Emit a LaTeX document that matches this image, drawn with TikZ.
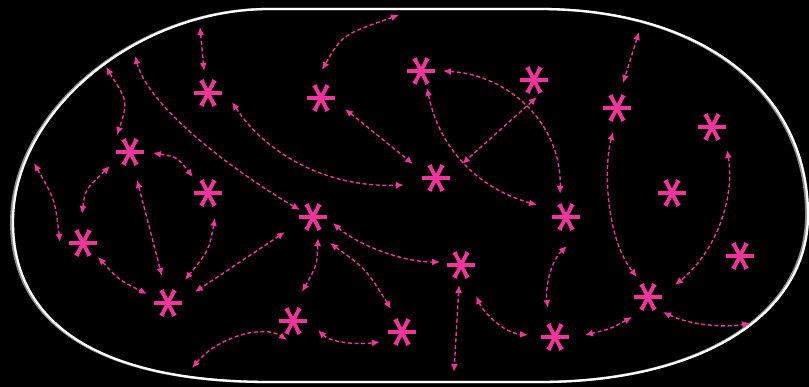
\documentclass[tikz,border=0pt]{standalone}
\usetikzlibrary{arrows.meta,calc}
\definecolor{astcol}{RGB}{240,52,155}
\definecolor{rimgray}{RGB}{140,140,140}
\tikzset{
 ast/.style={circle,minimum size=34pt,inner sep=0pt,
   path picture={\coordinate (pc) at (path picture bounding box.center);
     \foreach \a in {0,63,117}{
       \draw[astcol,line width=3.9pt] ($(pc)+(\a:-13.5)$) -- ($(pc)+(\a:13.5)$);
       \draw[astcol,line width=2.2pt] ($(pc)+(\a:13.3)+(\a+90:2.4)$) -- ($(pc)+(\a:13.3)+(\a-90:2.4)$);
       \draw[astcol,line width=2.2pt] ($(pc)+(\a:-13.3)+(\a+90:2.4)$) -- ($(pc)+(\a:-13.3)+(\a-90:2.4)$);
     }}},
 conn/.style={astcol,line width=1.4pt,dash pattern=on 4pt off 2.6pt,
   {Latex[length=8pt,width=7pt]}-{Latex[length=8pt,width=7pt]}},
 rim/.style={line width=2.3pt}
}
\begin{document}
\begin{tikzpicture}[x=1pt,y=-1pt]
\useasboundingbox (0,0) rectangle (809,387);
\fill[black] (0,0) rectangle (809,387);
% outline
\draw[rim,rimgray,xshift=-1.8pt] (13,222) .. controls (13,112) and (136,9) .. (270,9) -- (540,9) .. controls (701,9) and (808,91) .. (808,215) .. controls (808,315) and (701,382) .. (540,382) -- (270,382) .. controls (103,382) and (13,326) .. cycle;
\draw[rim,white] (13,222) .. controls (13,112) and (136,9) .. (270,9) -- (540,9) .. controls (701,9) and (808,91) .. (808,215) .. controls (808,315) and (701,382) .. (540,382) -- (270,382) .. controls (103,382) and (13,326) .. cycle;
% asterisks
\node[ast] (s1) at (208,93) {};
\node[ast] (s2) at (130,152) {};
\node[ast] (s3) at (208,193) {};
\node[ast] (s4) at (83,243) {};
\node[ast] (s5) at (168,303) {};
\node[ast] (s6) at (321,98) {};
\node[ast] (s7) at (421,71) {};
\node[ast] (s8) at (534,80) {};
\node[ast] (s9) at (436,178) {};
\node[ast] (s10) at (313,217) {};
\node[ast] (s11) at (461,265) {};
\node[ast] (s12) at (293,321) {};
\node[ast] (s13) at (402,332) {};
\node[ast] (s14) at (566,217) {};
\node[ast] (s15) at (617,108) {};
\node[ast] (s16) at (712,127) {};
\node[ast] (s17) at (672,193) {};
\node[ast] (s18) at (740,256) {};
\node[ast] (s19) at (648,297) {};
\node[ast] (s20) at (555,337) {};
% free ends
\coordinate (fA) at (200,27);
\coordinate (fB) at (106,67);
\coordinate (fC) at (135,56);
\coordinate (fE) at (399,15);
\coordinate (fJ) at (639,32);
\coordinate (fN) at (750,323);
\coordinate (fR) at (454,372);
\coordinate (fW) at (192,368);
\coordinate (fAC) at (34,163);
% connectors
\draw[conn] (fA) -- ($(s1)+(-4,-22)$);
\draw[conn] (fB) .. controls (128,102) .. ($(s2)+(-13,-17)$);
\draw[conn] (fC) .. controls (150,110) and (240,175) .. ($(s10)+(-13,-7)$);
\draw[conn] ($(s1)+(24,9)$) .. controls (262,148) and (320,188) .. ($(s9)+(-32,7)$);
\draw[conn] (fE) .. controls (342,35) .. ($(s6)+(1,-28)$);
\draw[conn] ($(s6)+(24,11)$) -- ($(s9)+(-23,-14)$);
\draw[conn] ($(s7)+(22,0)$) .. controls (510,75) and (562,125) .. ($(s14)+(-6,-23)$);
\draw[conn] ($(s7)+(6,17)$) .. controls (440,150) and (478,188) .. ($(s14)+(-29,-12)$);
\draw[conn] ($(s8)+(3,17)$) -- ($(s9)+(26,-14)$);
\draw[conn] (fJ) -- ($(s15)+(6,-25)$);
\draw[conn] ($(s15)+(-4,24)$) .. controls (603,170) and (607,240) .. ($(s19)+(-11,-20)$);
\draw[conn] ($(s16)+(15,23)$) .. controls (735,195) and (718,250) .. ($(s19)+(27,-12)$);
\draw[conn] ($(s19)+(15,15)$) .. controls (690,325) and (725,328) .. (fN);
\draw[conn] ($(s19)+(-16,20)$) .. controls (610,329) .. ($(s20)+(30,-2)$);
\draw[conn] ($(s14)+(1,29)$) .. controls (550,262) and (545,290) .. ($(s20)+(-7,-29)$);
\draw[conn] ($(s11)+(15,31)$) .. controls (485,315) and (505,333) .. ($(s20)+(-27,-2)$);
\draw[conn] ($(s11)+(-2,20)$) -- (fR);
\draw[conn] ($(s10)+(20,6)$) .. controls (355,243) and (400,262) .. ($(s11)+(-21,-3)$);
\draw[conn] ($(s10)+(5,21)$) .. controls (317,265) .. ($(s12)+(9,-29)$);
\draw[conn] ($(s10)+(17,26)$) .. controls (366,269) .. ($(s13)+(-11,-23)$);
\draw[conn] ($(s12)+(25,9)$) .. controls (330,342) and (355,345) .. ($(s13)+(-22,10)$);
\draw[conn] (fW) .. controls (220,335) and (265,325) .. ($(s12)+(-6,19)$);
\draw[conn] ($(s10)+(-28,15)$) -- ($(s5)+(27,-11)$);
\draw[conn] ($(s3)+(7,25)$) .. controls (209,250) .. ($(s5)+(17,-23)$);
\draw[conn] ($(s2)+(7,28)$) -- ($(s5)+(-6,-27)$);
\draw[conn] ($(s2)+(23,1)$) .. controls (177,157) .. ($(s3)+(-15,-16)$);
\draw[conn] ($(s2)+(-20,14)$) .. controls (85,190) .. ($(s4)+(-1,-29)$);
\draw[conn] (fAC) .. controls (55,200) .. ($(s4)+(-23,-1)$);
\draw[conn] ($(s4)+(15,14)$) .. controls (119,280) .. ($(s5)+(-21,-9)$);
\end{tikzpicture}
\end{document}
